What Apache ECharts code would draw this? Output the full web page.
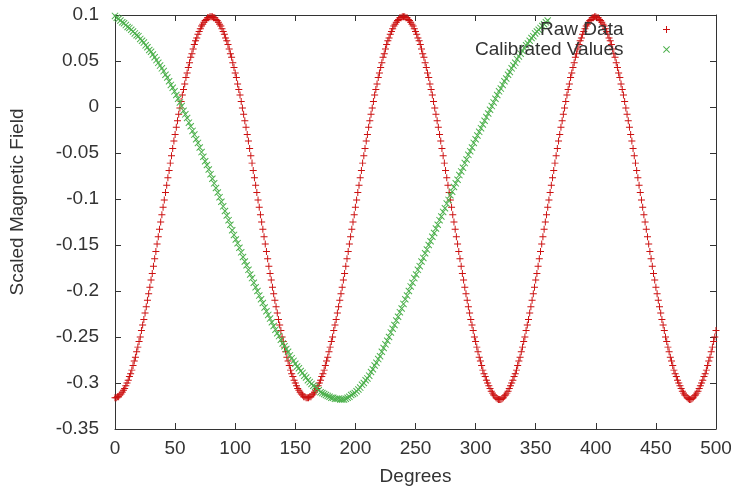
<!DOCTYPE html>
<html>
<head>
<meta charset="utf-8">
<style>
html,body{margin:0;padding:0;background:#fff;}
#chart{width:731px;height:487px;}
</style>
<script src="https://cdn.jsdelivr.net/npm/echarts@6.0.0/dist/echarts.min.js"></script>
</head>
<body>
<div id="chart"></div>
<script>
// ---- Data ----
const xTitle = 'Degrees';
const yTitle = 'Scaled Magnetic Field';
const seriesNames = ['Raw Data', 'Calibrated Values'];

// Raw Data: one sample per degree, starting at 0 deg
const rawStartDeg = 0;
const rawStepDeg = 1;
const rawField = [
-0.316,-0.316,-0.315,-0.315,-0.313,-0.312,-0.310,-0.308,-0.306,-0.303,
-0.300,-0.297,-0.293,-0.290,-0.286,-0.281,-0.276,-0.272,-0.266,-0.261,
-0.255,-0.250,-0.243,-0.237,-0.231,-0.224,-0.217,-0.210,-0.203,-0.196,
-0.188,-0.181,-0.173,-0.165,-0.157,-0.149,-0.141,-0.133,-0.125,-0.117,
-0.109,-0.101,-0.093,-0.085,-0.077,-0.069,-0.061,-0.053,-0.045,-0.037,
-0.030,-0.022,-0.015,-0.008,-0.001,0.006,0.013,0.019,0.025,0.032,
0.037,0.043,0.048,0.054,0.058,0.063,0.068,0.072,0.075,0.079,
0.082,0.085,0.088,0.090,0.092,0.094,0.095,0.097,0.097,0.098,
0.098,
0.098,0.097,0.097,0.095,0.094,0.092,0.090,0.088,0.085,0.082,
0.079,0.075,0.072,0.068,0.063,0.058,0.054,0.048,0.043,0.037,
0.032,0.025,0.019,0.013,0.006,-0.001,-0.008,-0.015,-0.022,-0.030,
-0.037,-0.045,-0.053,-0.061,-0.069,-0.077,-0.085,-0.093,-0.101,-0.109,
-0.117,-0.125,-0.133,-0.141,-0.149,-0.157,-0.165,-0.173,-0.181,-0.188,
-0.196,-0.203,-0.210,-0.217,-0.224,-0.231,-0.237,-0.243,-0.250,-0.255,
-0.261,-0.266,-0.272,-0.276,-0.281,-0.286,-0.290,-0.293,-0.297,-0.300,
-0.303,-0.306,-0.308,-0.310,-0.312,-0.313,-0.315,-0.315,-0.316,-0.316,
-0.316,-0.315,-0.315,-0.313,-0.312,-0.310,-0.308,-0.306,-0.303,-0.300,
-0.297,-0.293,-0.290,-0.286,-0.281,-0.276,-0.272,-0.266,-0.261,-0.255,
-0.250,-0.243,-0.237,-0.231,-0.224,-0.217,-0.210,-0.203,-0.196,-0.188,
-0.181,-0.173,-0.165,-0.157,-0.149,-0.141,-0.133,-0.125,-0.117,-0.109,
-0.101,-0.093,-0.085,-0.077,-0.069,-0.061,-0.053,-0.045,-0.037,-0.030,
-0.022,-0.015,-0.008,-0.001,0.006,0.013,0.019,0.025,0.032,0.037,
0.043,0.048,0.054,0.058,0.063,0.068,0.072,0.075,0.079,0.082,
0.085,0.088,0.090,0.092,0.094,0.095,0.097,0.097,0.098,0.098,
0.098,0.097,0.097,0.095,0.094,0.092,0.090,0.088,0.085,0.082,
0.079,0.075,0.072,0.068,0.063,0.058,0.054,0.048,0.043,0.037,
0.032,0.025,0.019,0.013,0.006,-0.001,-0.008,-0.015,-0.022,-0.030,
-0.037,-0.045,-0.053,-0.061,-0.069,-0.077,-0.085,-0.093,-0.101,-0.109,
-0.117,-0.125,-0.133,-0.141,-0.149,-0.157,-0.165,-0.173,-0.181,-0.188,
-0.196,-0.203,-0.210,-0.217,-0.224,-0.231,-0.237,-0.243,-0.250,-0.255,
-0.261,-0.266,-0.272,-0.276,-0.281,-0.286,-0.290,-0.293,-0.297,-0.300,
-0.303,-0.306,-0.309,-0.311,-0.313,-0.314,-0.316,-0.317,-0.318,-0.318,
-0.318,-0.317,-0.316,-0.314,-0.313,-0.311,-0.309,-0.306,-0.303,-0.300,
-0.297,-0.293,-0.290,-0.286,-0.281,-0.276,-0.272,-0.266,-0.261,-0.255,
-0.250,-0.243,-0.237,-0.231,-0.224,-0.217,-0.210,-0.203,-0.196,-0.188,
-0.181,-0.173,-0.165,-0.157,-0.149,-0.141,-0.133,-0.125,-0.117,-0.109,
-0.101,-0.093,-0.085,-0.077,-0.069,-0.061,-0.053,-0.045,-0.037,-0.030,
-0.022,-0.015,-0.008,-0.001,0.006,0.013,0.019,0.025,0.032,0.037,
0.043,0.048,0.054,0.058,0.063,0.068,0.072,0.075,0.079,0.082,
0.085,0.088,0.090,0.092,0.094,0.095,0.097,0.097,0.098,0.098,
0.097,0.097,0.095,0.094,0.092,0.090,0.088,0.085,0.082,
0.079,0.075,0.072,0.068,0.063,0.058,0.054,0.048,0.043,0.037,
0.032,0.025,0.019,0.013,0.006,-0.001,-0.008,-0.015,-0.022,-0.030,
-0.037,-0.045,-0.053,-0.061,-0.069,-0.077,-0.085,-0.093,-0.101,-0.109,
-0.117,-0.125,-0.133,-0.141,-0.149,-0.157,-0.165,-0.173,-0.181,-0.188,
-0.196,-0.203,-0.210,-0.217,-0.224,-0.231,-0.237,-0.243,-0.250,-0.255,
-0.261,-0.266,-0.272,-0.276,-0.281,-0.286,-0.290,-0.293,-0.297,-0.300,
-0.303,-0.306,-0.309,-0.311,-0.313,-0.314,-0.316,-0.317,-0.318,
-0.318,-0.317,-0.316,-0.314,-0.313,-0.311,-0.309,-0.306,-0.303,-0.300,
-0.297,-0.293,-0.290,-0.286,-0.281,-0.276,-0.272,-0.266,-0.261,-0.255,
-0.250,-0.243
];

// Calibrated Values: one sample per 1.5 degrees, starting at 0 deg
const calStartDeg = 0;
const calStepDeg = 1.5;
const calibratedField = [
0.099,0.097,0.096,0.094,0.092,0.091,0.089,
0.087,0.086,0.084,0.082,0.080,0.078,0.077,
0.074,0.072,0.070,0.067,0.065,0.062,
0.060,0.057,0.054,0.051,0.048,0.045,0.042,
0.039,0.035,0.032,0.028,0.024,0.021,0.017,
0.013,0.009,0.005,0.001,-0.004,-0.008,
-0.012,-0.017,-0.021,-0.026,-0.030,-0.035,-0.039,
-0.044,-0.049,-0.054,-0.059,-0.063,-0.068,-0.073,
-0.078,-0.083,-0.088,-0.093,-0.098,-0.103,
-0.108,-0.113,-0.118,-0.123,-0.128,-0.134,-0.139,
-0.144,-0.148,-0.153,-0.158,-0.163,-0.168,-0.172,
-0.177,-0.182,-0.186,-0.191,-0.196,-0.200,
-0.205,-0.209,-0.213,-0.218,-0.222,-0.226,-0.230,
-0.234,-0.238,-0.242,-0.246,-0.249,-0.253,-0.257,
-0.260,-0.263,-0.266,-0.270,-0.273,-0.276,
-0.279,-0.282,-0.284,-0.287,-0.289,-0.292,-0.294,
-0.297,-0.299,-0.301,-0.303,-0.304,-0.306,-0.308,
-0.310,-0.311,-0.312,-0.313,-0.314,-0.315,
-0.316,-0.316,-0.317,-0.317,-0.317,-0.318,-0.318,
-0.318,-0.317,-0.316,-0.315,-0.313,-0.312,-0.311,
-0.309,-0.307,-0.305,-0.302,-0.300,-0.297,
-0.295,-0.292,-0.288,-0.285,-0.281,-0.278,-0.274,
-0.271,-0.266,-0.262,-0.258,-0.254,-0.250,-0.245,
-0.241,-0.237,-0.232,-0.228,-0.223,-0.219,
-0.214,-0.209,-0.205,-0.200,-0.195,-0.191,-0.186,
-0.182,-0.177,-0.173,-0.168,-0.164,-0.159,-0.155,
-0.150,-0.146,-0.141,-0.137,-0.132,-0.128,
-0.123,-0.119,-0.114,-0.110,-0.105,-0.101,-0.096,
-0.092,-0.087,-0.083,-0.079,-0.074,-0.070,-0.066,
-0.061,-0.057,-0.052,-0.048,-0.044,-0.039,
-0.035,-0.031,-0.027,-0.023,-0.019,-0.015,-0.011,
-0.007,-0.003,0.001,0.005,0.009,0.013,0.017,
0.020,0.024,0.028,0.031,0.035,0.038,
0.042,0.045,0.048,0.052,0.055,0.058,0.061,
0.064,0.067,0.069,0.072,0.075,0.077,0.080,
0.082,0.084,0.086,0.088,0.090,0.092,
0.094
];

// Axis ranges / ticks
const xMin = 0, xMax = 500, xInterval = 50;
const yMin = -0.35, yMax = 0.1, yInterval = 0.05;

// ---- Styling ----
const FONT = 'Liberation Sans, Arial, sans-serif';
const FS = 19;
const TEXT_COLOR = '#333';
const AXIS_COLOR = '#333';
const RED = '#cc1010';
const GREEN = '#4cb04c';
// filled thin-armed glyphs (plus and cross)
const PLUS = 'path://M0,4.3L10,4.3L10,5.7L0,5.7Z M4.3,0L5.7,0L5.7,10L4.3,10Z';
const CROSS = 'path://M0,1L1,0L10,9L9,10Z M9,0L10,1L1,10L0,9Z';

const rawData = rawField.map((v, i) => [rawStartDeg + i * rawStepDeg, v]);
const calData = calibratedField.map((v, i) => [calStartDeg + i * calStepDeg, v]);

const axisLine = { show: true, onZero: false, lineStyle: { color: AXIS_COLOR, width: 1 } };
const tick = { show: true, inside: true, length: 6, lineStyle: { color: AXIS_COLOR, width: 1 } };

const redStyle = { color: RED, borderWidth: 0, opacity: 1 };
const greenStyle = { color: GREEN, borderWidth: 0, opacity: 1 };

const chart = echarts.init(document.getElementById('chart'), null, { renderer: 'canvas' });
chart.setOption({
  animation: false,
  backgroundColor: '#fff',
  color: [RED, GREEN],
  grid: { left: 115, right: 15, top: 15, bottom: 58, outerBoundsMode: 'none', containLabel: false },
  xAxis: [
    {
      type: 'value', min: xMin, max: xMax, interval: xInterval, position: 'bottom',
      axisLine: axisLine, axisTick: tick, splitLine: { show: false },
      axisLabel: { fontSize: FS, color: TEXT_COLOR, fontFamily: FONT, margin: 10 },
      name: xTitle, nameLocation: 'middle', nameGap: 38,
      nameTextStyle: { fontSize: FS, color: TEXT_COLOR, fontFamily: FONT }
    },
    {
      type: 'value', min: xMin, max: xMax, interval: xInterval, position: 'top',
      axisLine: axisLine, axisTick: tick, splitLine: { show: false },
      axisLabel: { show: false }
    }
  ],
  yAxis: [
    {
      type: 'value', min: yMin, max: yMax, interval: yInterval, position: 'left',
      axisLine: axisLine, axisTick: tick, splitLine: { show: false },
      axisLabel: { fontSize: FS, color: TEXT_COLOR, fontFamily: FONT, margin: 16 }
    },
    {
      type: 'value', min: yMin, max: yMax, interval: yInterval, position: 'right',
      axisLine: axisLine, axisTick: tick, splitLine: { show: false },
      axisLabel: { show: false }
    }
  ],
  legend: [
    {
      data: [{ name: seriesNames[0], icon: PLUS }],
      right: 61, top: 20, padding: 0, align: 'right', orient: 'vertical',
      itemWidth: 76, itemHeight: 7, symbolKeepAspect: true,
      selectedMode: false,
      textStyle: { fontSize: FS, color: TEXT_COLOR, fontFamily: FONT }
    },
    {
      data: [{ name: seriesNames[1], icon: CROSS }],
      right: 61, top: 40, padding: 0, align: 'right', orient: 'vertical',
      itemWidth: 76, itemHeight: 7, symbolKeepAspect: true,
      selectedMode: false,
      textStyle: { fontSize: FS, color: TEXT_COLOR, fontFamily: FONT }
    }
  ],
  graphic: [
    {
      type: 'text', x: 18, y: 202, rotation: Math.PI / 2,
      style: {
        text: yTitle, fontSize: FS, fontFamily: FONT, fill: TEXT_COLOR,
        align: 'center', verticalAlign: 'middle'
      }
    }
  ],
  series: [
    {
      name: seriesNames[0], type: 'scatter', data: rawData,
      symbol: PLUS, symbolSize: 7, legendIcon: PLUS,
      itemStyle: redStyle,
      emphasis: { disabled: true }, silent: true, clip: false
    },
    {
      name: seriesNames[1], type: 'scatter', data: calData,
      symbol: CROSS, symbolSize: 7, legendIcon: CROSS,
      itemStyle: greenStyle,
      emphasis: { disabled: true }, silent: true, clip: false
    }
  ]
});
</script>
</body>
</html>
